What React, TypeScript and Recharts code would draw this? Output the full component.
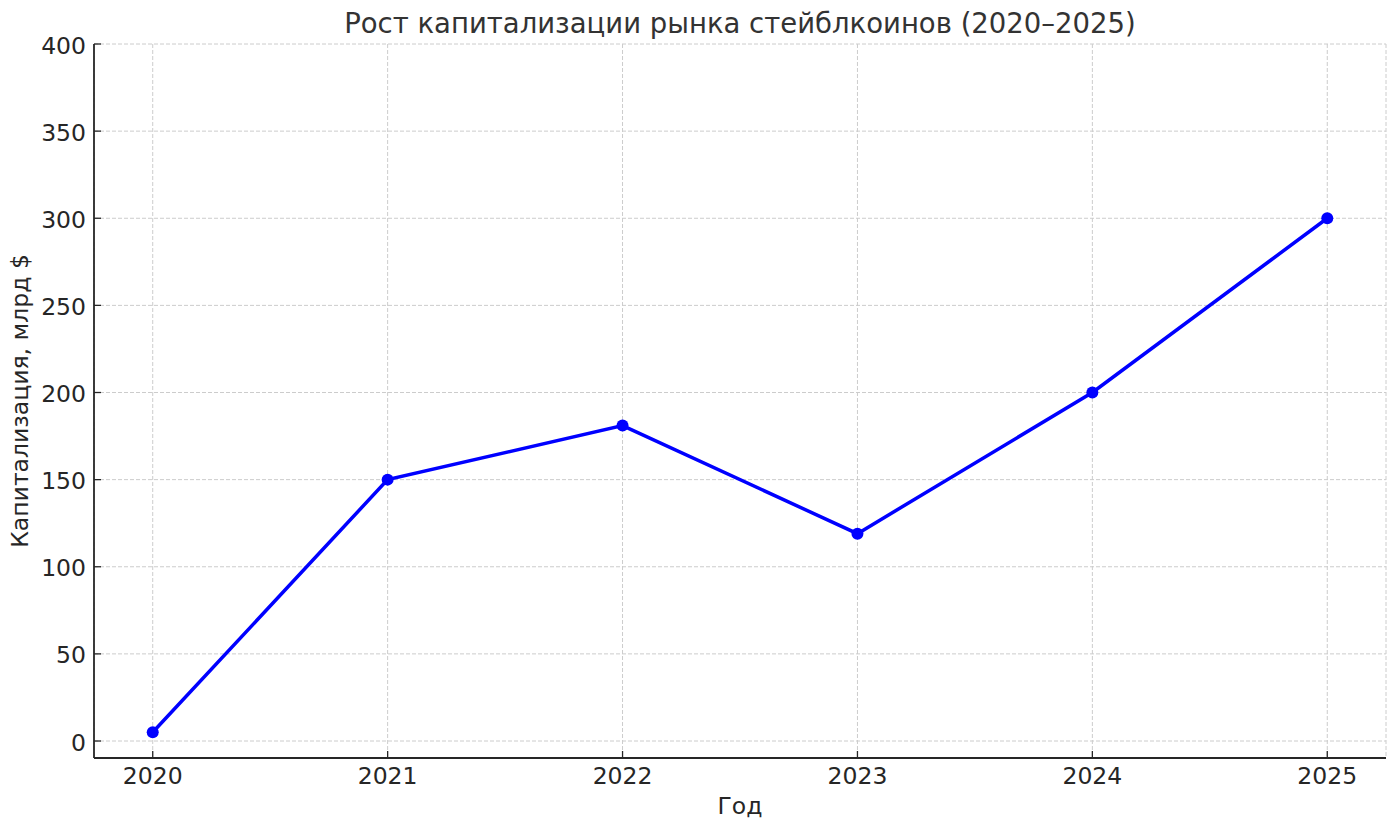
import React from 'react';
import { LineChart, Line, XAxis, YAxis, CartesianGrid } from 'recharts';

const years = [2020, 2021, 2022, 2023, 2024, 2025];
const capitalization = [5, 150, 181, 119, 200, 300];
const yTicks = [0, 50, 100, 150, 200, 250, 300, 350, 400];
const xDomain = [2019.75, 2025.25];
const yDomain = [-9.75, 400];
const title = 'Рост капитализации рынка стейблкоинов (2020–2025)';
const xLabel = 'Год';
const yLabel = 'Капитализация, млрд $';

const data = years.map((y, i) => ({ year: y, value: capitalization[i] }));

const W = 1396;
const H = 828;
const FONT = '"DejaVu Sans", sans-serif';
const INK = '#262626';

const XTick = (props: any) => {
  const { x, y, payload } = props;
  return (
    <g>
      <line x1={x} x2={x} y1={y} y2={y - 7} stroke={INK} strokeWidth={1.3} />
      <text x={x} y={y + 26} textAnchor="middle" fontSize={23.5} fill={INK} fontFamily={FONT}>
        {payload.value}
      </text>
    </g>
  );
};

const YTick = (props: any) => {
  const { x, y, payload } = props;
  return (
    <g>
      <line x1={x} x2={x + 7} y1={y} y2={y} stroke={INK} strokeWidth={1.3} />
      <text x={x - 8} y={y + 9.5} textAnchor="end" fontSize={23.5} fill={INK} fontFamily={FONT}>
        {payload.value}
      </text>
    </g>
  );
};

export default function App() {
  return (
    <div style={{ position: 'absolute', left: 0, top: 0, width: W, height: H, background: '#fff' }}>
      <LineChart
        width={W}
        height={H}
        data={data}
        margin={{ top: 44, right: 10, bottom: 0, left: 0 }}
        style={{ fontFamily: FONT }}
      >
        <CartesianGrid stroke="#cccccc" strokeDasharray="4 2" strokeWidth={1} />
        <XAxis
          dataKey="year"
          type="number"
          domain={xDomain}
          ticks={years}
          interval={0}
          height={70}
          tickSize={0}
          tickMargin={0}
          tickLine={false}
          axisLine={{ stroke: INK, strokeWidth: 1.8 }}
          tick={<XTick />}
          allowDataOverflow
        />
        <YAxis
          type="number"
          domain={yDomain}
          ticks={yTicks}
          interval={0}
          width={94}
          tickSize={0}
          tickMargin={0}
          tickLine={false}
          axisLine={{ stroke: INK, strokeWidth: 1.8 }}
          tick={<YTick />}
          allowDataOverflow
        />
        <Line
          dataKey="value"
          stroke="#0000ff"
          strokeWidth={3.5}
          dot={{ r: 6, fill: '#0000ff', stroke: '#0000ff', strokeWidth: 0 }}
          activeDot={false}
          isAnimationActive={false}
          type="linear"
        />
      </LineChart>
      <svg
        width={W}
        height={H}
        style={{ position: 'absolute', left: 0, top: 0, pointerEvents: 'none' }}
      >
        <text x={740} y={33} textAnchor="middle" fontSize={27.5} fill="#333333" fontFamily={FONT}>
          {title}
        </text>
        <text x={740} y={814} textAnchor="middle" fontSize={23.5} fill={INK} fontFamily={FONT}>
          {xLabel}
        </text>
        <text
          x={28}
          y={401}
          textAnchor="middle"
          fontSize={23.5}
          fill={INK}
          fontFamily={FONT}
          transform="rotate(-90 28 401)"
        >
          {yLabel}
        </text>
      </svg>
    </div>
  );
}
